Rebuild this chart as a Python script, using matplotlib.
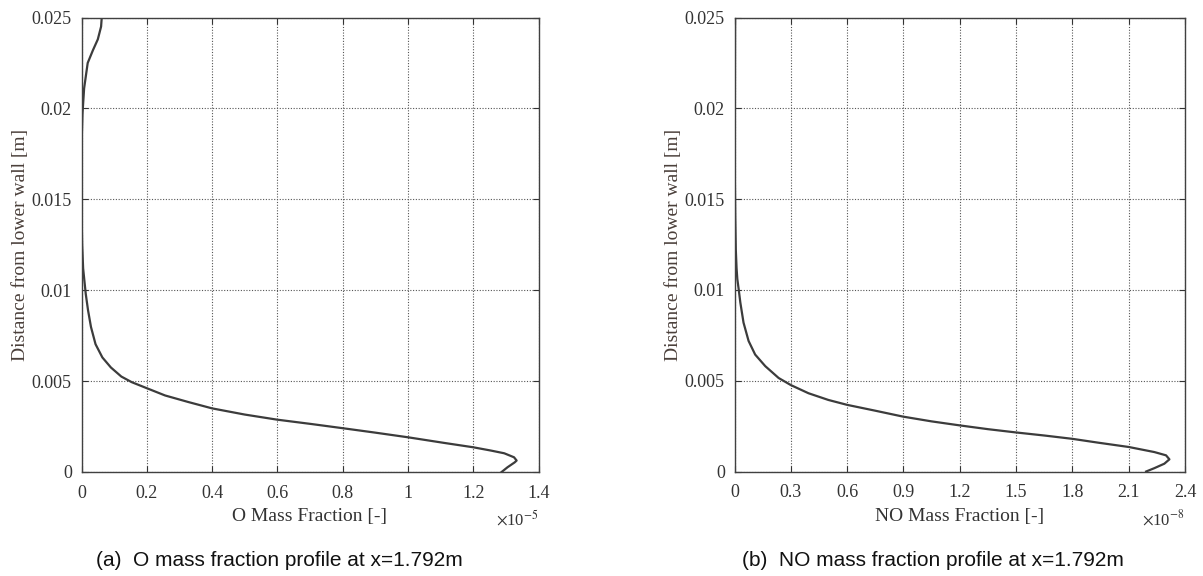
import matplotlib
matplotlib.use("Agg")
import matplotlib.pyplot as plt

# O mass fraction profile (x in units of 1e-5), distance in m
o_frac = [1.287, 1.305, 1.327, 1.333, 1.325, 1.295, 1.254, 1.2, 1.111, 1.0, 0.898,
          0.80, 0.704, 0.599, 0.5, 0.4, 0.327, 0.256, 0.2, 0.154, 0.122, 0.09,
          0.064, 0.043, 0.029, 0.02, 0.013, 0.009, 0.005, 0.002, 0.0005, 0.0,
          0.001, 0.003, 0.008, 0.019, 0.035, 0.05, 0.06, 0.062]
o_dist = [0.0, 0.00026, 0.00053, 0.00063, 0.00081, 0.00103, 0.00118, 0.00136,
          0.0016, 0.00191, 0.00217, 0.00241, 0.00264, 0.00288, 0.00316, 0.0035,
          0.00385, 0.00421, 0.00461, 0.00494, 0.00525, 0.00575, 0.0063, 0.00703,
          0.00798, 0.0089, 0.0098, 0.0105, 0.0112, 0.0125, 0.014, 0.016,
          0.0185, 0.0197, 0.0211, 0.0225, 0.0232, 0.0238, 0.0245, 0.025]

# NO mass fraction profile (x in units of 1e-8), distance in m
no_frac = [2.193, 2.237, 2.29, 2.317, 2.299, 2.237, 2.1, 1.936, 1.799, 1.652, 1.5,
           1.351, 1.199, 1.05, 0.899, 0.749, 0.6, 0.5, 0.394, 0.3, 0.235, 0.164,
           0.11, 0.075, 0.048, 0.031, 0.022, 0.015, 0.011, 0.007, 0.004, 0.002,
           0.002, 0.003]
no_dist = [0.0, 0.000185, 0.00043, 0.00067, 0.00089, 0.00107, 0.00135, 0.00159,
           0.0018, 0.00198, 0.00215, 0.00233, 0.00254, 0.00276, 0.00302, 0.00335,
           0.00367, 0.00394, 0.00431, 0.00476, 0.00515, 0.0058, 0.00644, 0.00719,
           0.0082, 0.00931, 0.01006, 0.0106, 0.0112, 0.0122, 0.014, 0.016, 0.02,
           0.025]

o_xticks = [0, 0.2, 0.4, 0.6, 0.8, 1, 1.2, 1.4]
o_xticklabels = ["0", "0.2", "0.4", "0.6", "0.8", "1", "1.2", "1.4"]
no_xticks = [0, 0.3, 0.6, 0.9, 1.2, 1.5, 1.8, 2.1, 2.4]
no_xticklabels = ["0", "0.3", "0.6", "0.9", "1.2", "1.5", "1.8", "2.1", "2.4"]
yticks = [0, 0.005, 0.01, 0.015, 0.02, 0.025]
yticklabels = ["0", "0.005", "0.01", "0.015", "0.02", "0.025"]

serif = ["Liberation Serif", "DejaVu Serif"]
txtc = "#333333"
linec = "#3c3c3c"

fig = plt.figure(figsize=(12.03, 5.76), dpi=100)
W, H = 1203, 576

def make_ax(l, r, t, b):
    return fig.add_axes([l / W, 1 - b / H, (r - l) / W, (b - t) / H])

ax1 = make_ax(81.5, 538.5, 17.5, 472)
ax2 = make_ax(734.5, 1185, 17.5, 471.5)

def style(ax, xs, ys, xticks, xlabels, xmax, xlabel, exp):
    ax.plot(xs, ys, color=linec, lw=1.6, solid_joinstyle="round")
    ax.set_xlim(0, xmax)
    ax.set_ylim(0, 0.025)
    ax.set_xticks(xticks)
    ax.set_xticklabels(xlabels, fontfamily=serif, fontsize=13, color=txtc)
    ax.set_yticks(yticks)
    ax.set_yticklabels(yticklabels, fontfamily=serif, fontsize=13, color=txtc)
    ax.tick_params(direction="in", top=True, right=True, length=4, width=0.8,
                   color="#333333")
    ax.tick_params(axis="x", pad=9)
    ax.tick_params(axis="y", pad=7)
    ax.grid(True, linestyle=(0, (1, 1.5)), color="#555555", lw=0.8)
    for s in ax.spines.values():
        s.set_color("#404040")
        s.set_linewidth(1.0)
    ax.set_xlabel(xlabel, fontfamily=serif, fontsize=14, color=txtc, labelpad=5)
    ax.set_ylabel("Distance from lower wall [m]", fontfamily=serif, fontsize=14,
                  color="#4a3f3a", labelpad=2)
    ax.text(1.0, -0.105, r"$\times$10$^{%s}$" % exp, transform=ax.transAxes,
            ha="right", va="center", fontfamily=serif, fontsize=12, color=txtc,
            math_fontfamily="stix")

style(ax1, o_frac, o_dist, o_xticks, o_xticklabels, 1.4, "O Mass Fraction [-]", "-5")
style(ax2, no_frac, no_dist, no_xticks, no_xticklabels, 2.4, "NO Mass Fraction [-]", "-8")

fig.text(279 / W, 1 - 560 / H, "(a)  O mass fraction profile at x=1.792m",
         ha="center", va="center", fontfamily="Liberation Sans", fontsize=15,
         color="#111111")
fig.text(933 / W, 1 - 560 / H, "(b)  NO mass fraction profile at x=1.792m",
         ha="center", va="center", fontfamily="Liberation Sans", fontsize=15,
         color="#111111")

fig.savefig("out.png", dpi=100)
